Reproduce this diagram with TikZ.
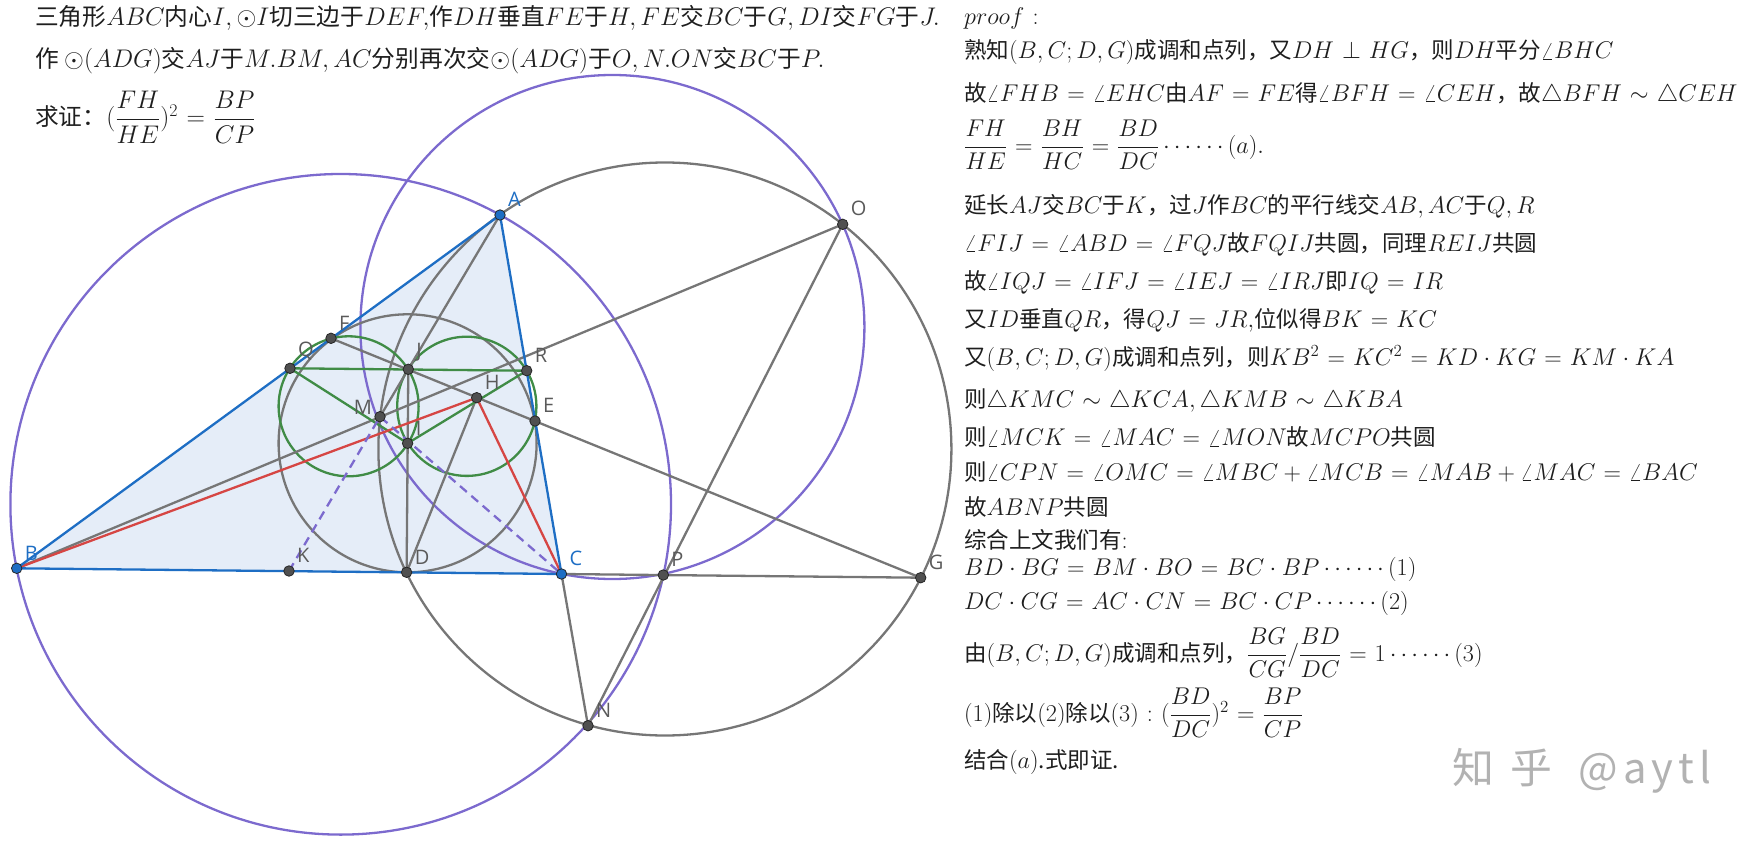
\RequirePackage{fix-cm}
\documentclass[tikz,border=0pt]{standalone}
\usepackage{amsmath}
\usepackage[no-math]{fontspec}
\setmainfont[Scale=0.93]{Noto Sans CJK SC}
\newfontfamily\labelfont{Open Sans}
\thickmuskip=6mu plus 5mu
\definecolor{ggbpurple}{RGB}{124,106,206}
\definecolor{ggbgray}{RGB}{118,118,118}
\definecolor{ggbblue}{RGB}{30,110,196}
\definecolor{ggbfill}{RGB}{229,237,248}
\definecolor{ggbgreen}{RGB}{64,140,70}
\definecolor{ggbred}{RGB}{214,70,68}
\definecolor{ptgray}{RGB}{80,80,80}
\definecolor{lblgray}{RGB}{90,90,90}
\definecolor{markgray}{RGB}{178,178,178}
\definecolor{txtblack}{RGB}{30,30,30}

\begin{document}
\begin{tikzpicture}[x=1pt,y=-1pt,line width=2.3pt,
  pt/.style={circle,fill=ptgray,draw=black!85,line width=0.8pt,inner sep=0pt,minimum size=10.5pt},
  bpt/.style={pt,fill=ggbblue},
  lbl/.style={text=lblgray,font=\labelfont\fontsize{20}{20}\selectfont,inner sep=3pt},
  blbl/.style={lbl,text=ggbblue},
  txt/.style={anchor=west,inner sep=0pt,text=txtblack,font=\fontsize{24.2}{29}\selectfont},
  qtxt/.style={txt,font=\fontsize{25.5}{30}\selectfont}]
  \useasboundingbox (0,0) rectangle (1760,850);

  % points of the figure
  \coordinate (A) at (500,215);
  \coordinate (B) at (16.7,568.3);
  \coordinate (C) at (561.5,574);
  \coordinate (D) at (406.6,572.3);
  \coordinate (E) at (535,421);
  \coordinate (F) at (331,338.3);
  \coordinate (G) at (920.7,577.7);
  \coordinate (H) at (476.7,397.7);
  \coordinate (I) at (407.6,443.3);
  \coordinate (J) at (408.3,369.3);
  \coordinate (K) at (289,571);
  \coordinate (M) at (380,416.7);
  \coordinate (N) at (588,725.7);
  \coordinate (O) at (842.7,224.3);
  \coordinate (P) at (663.3,575);
  \coordinate (Q) at (290,368.3);
  \coordinate (R) at (526.7,370.7);

  \fill[ggbfill] (A) -- (B) -- (C) -- cycle;

  % circles
  \draw[ggbpurple] (340.7,504.3) circle (330.3);
  \draw[ggbpurple] (612.4,327) circle (252);
  \draw[ggbgray] (664.9,449) circle (286.5);
  \draw[ggbgray] (I) circle (129);
  \draw[ggbgreen] (348.6,406.3) circle (70);
  \draw[ggbgreen] (466.8,406.3) circle (69.6);

  % lines
  \draw[ggbgray] (C) -- (G);
  \draw[ggbgray] (C) -- (N);
  \draw[ggbgray] (O) -- (N);
  \draw[ggbgray] (B) -- (O);
  \draw[ggbgray] (F) -- (G);
  \draw[ggbgray] (A) -- (M);
  \draw[ggbgray] (J) -- (D);
  \draw[ggbgray] (D) -- (H);
  \draw[ggbgreen] (Q) -- (R);
  \draw[ggbgreen] (Q) -- (I) -- (R);
  \draw[ggbred] (B) -- (H) -- (C);
  \draw[ggbpurple,dash pattern=on 9pt off 6pt] (K) -- (M) -- (C);
  \draw[ggbblue] (A) -- (B) -- (C) -- cycle;

  \foreach \p in {D,E,F,G,H,I,J,K,N,O,P,Q,R}
    \node[pt,label={[lbl]45:\p}] (p\p) at (\p) {};
  \node[pt,label={[lbl,yshift=-6pt]135:M}] (pM) at (M) {};
  \foreach \p in {A,B,C}
    \node[bpt,label={[blbl]45:\p}] (p\p) at (\p) {};

  % statement
  \node[qtxt] (q1) at (34,18) {三角形$ABC$内心$I,\odot I$切三边于$DEF,$作$DH$垂直$FE$于$H,FE$交$BC$于$G,DI$交$FG$于$J.$};
  \node[qtxt] (q2) at (34,61) {作 $\odot(ADG)$交$AJ$于$M.BM,AC$分别再次交$\odot(ADG)$于$O,N.ON$交$BC$于$P.$};
  \node[qtxt] (q3) at (34,117) {求证：$(\dfrac{FH}{HE})^2=\dfrac{BP}{CP}$};

  % proof
  \node[txt] (p1) at (963,18) {$proof:$};
  \node[txt] (p2) at (963,52.5) {熟知$(B,C;D,G)$成调和点列，又$DH\perp HG$，则$DH$平分$\angle BHC$};
  \node[txt] (p3) at (963,94) {故$\angle FHB=\angle EHC$由$AF=FE$得$\angle BFH=\angle CEH$，故$\triangle BFH\sim\triangle CEH$};
  \node[txt] (p4) at (963,145) {$\dfrac{FH}{HE}=\dfrac{BH}{HC}=\dfrac{BD}{DC}\cdots\cdots(a).$};
  \node[txt] (p5) at (963,206.7) {延长$AJ$交$BC$于$K$，过$J$作$BC$的平行线交$AB,AC$于$Q,R$};
  \node[txt] (p6) at (963,244) {$\angle FIJ=\angle ABD=\angle FQJ$故$FQIJ$共圆，同理$REIJ$共圆};
  \node[txt] (p7) at (963,282.3) {故$\angle IQJ=\angle IFJ=\angle IEJ=\angle IRJ$即$IQ=IR$};
  \node[txt] (p8) at (963,320) {又$ID$垂直$QR$，得$QJ=JR,$位似得$BK=KC$};
  \node[txt] (p9) at (963,358.3) {又$(B,C;D,G)$成调和点列，则$KB^2=KC^2=KD\cdot KG=KM\cdot KA$};
  \node[txt] (p10) at (963,400) {则$\triangle KMC\sim\triangle KCA,\triangle KMB\sim\triangle KBA$};
  \node[txt] (p11) at (963,437.3) {则$\angle MCK=\angle MAC=\angle MON$故$MCPO$共圆};
  \node[txt] (p12) at (963,471.7) {则$\angle CPN=\angle OMC=\angle MBC+\angle MCB=\angle MAB+\angle MAC=\angle BAC$};
  \node[txt] (p13) at (963,506.7) {故$ABNP$共圆};
  \node[txt] (p14) at (963,540) {综合上文我们有$:$};
  \node[txt] (p15) at (963,569) {$BD\cdot BG=BM\cdot BO=BC\cdot BP\cdots\cdots(1)$};
  \node[txt] (p16) at (963,603.3) {$DC\cdot CG=AC\cdot CN=BC\cdot CP\cdots\cdots(2)$};
  \node[txt] (p17) at (963,653) {由$(B,C;D,G)$成调和点列，$\dfrac{BG}{CG}/\dfrac{BD}{DC}=1\cdots\cdots(3)$};
  \node[txt] (p18) at (963,713) {$(1)$除以$(2)$除以$(3):(\dfrac{BD}{DC})^2=\dfrac{BP}{CP}$};
  \node[txt] (p19) at (963,762) {结合$(a)$.式即证.};

  \node[text=markgray,font=\fontsize{45}{45}\selectfont] (mark) at (1582,771)
    {知\hspace{16pt}乎\hspace{26pt}@\hspace{5pt}a\hspace{5pt}y\hspace{5pt}t\hspace{5pt}l};
\end{tikzpicture}
\end{document}
